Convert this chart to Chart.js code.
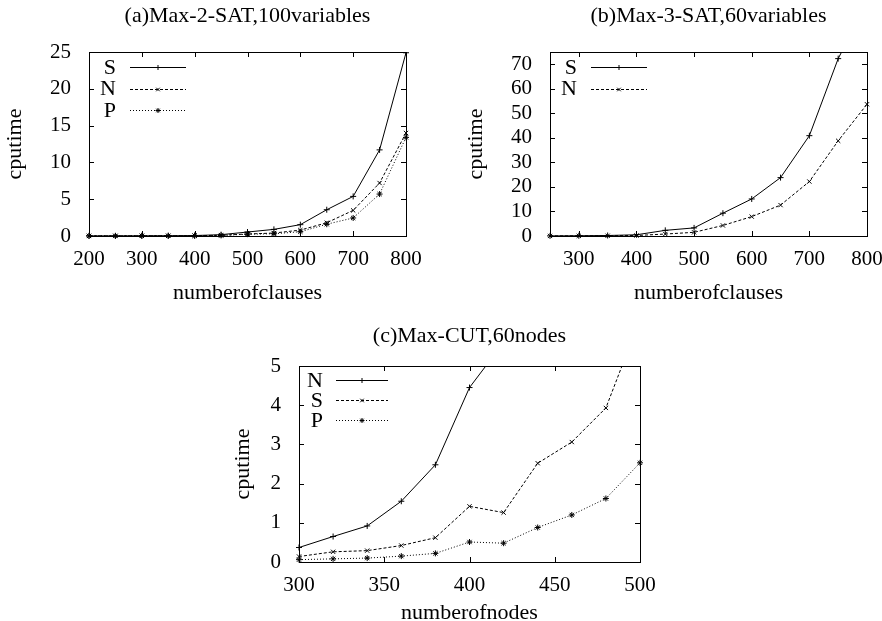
<!DOCTYPE html>
<html>
<head>
<meta charset="utf-8">
<script src="https://cdn.jsdelivr.net/npm/chart.js@4/dist/chart.umd.min.js"></script>
<style>
  html, body { margin: 0; padding: 0; background: #fff; overflow: hidden; }
  .box { position: absolute; }
  #boxA { left: 0; top: 0; width: 441px; height: 310px; }
  #boxB { left: 441px; top: 0; width: 441px; height: 310px; }
  #boxC { left: 200px; top: 310px; width: 460px; height: 320px; }
</style>
</head>
<body>
<div class="box" id="boxA"><canvas id="chartA"></canvas></div>
<div class="box" id="boxB"><canvas id="chartB"></canvas></div>
<div class="box" id="boxC"><canvas id="chartC"></canvas></div>
<script>
// (a) Max-2-SAT, 100 variables
const clausesA = [200, 250, 300, 350, 400, 450, 500, 550, 600, 650, 700, 750, 800];
const sA = [0.02, 0.02, 0.03, 0.04, 0.06, 0.18, 0.54, 0.9, 1.54, 3.57, 5.38, 11.7, 24.9];
const nA = [0.01, 0.01, 0.02, 0.02, 0.04, 0.1, 0.27, 0.4, 0.8, 1.8, 3.48, 7.2, 14.0];
const pA = [0.01, 0.01, 0.02, 0.02, 0.03, 0.08, 0.25, 0.3, 0.58, 1.6, 2.45, 5.7, 13.4];
const xTicksA = [200, 300, 400, 500, 600, 700, 800];
const yTicksA = [0, 5, 10, 15, 20, 25];

// (b) Max-3-SAT, 60 variables
const clausesB = [250, 300, 350, 400, 450, 500, 550, 600, 650, 700, 750, 800];
const sB = [0.05, 0.1, 0.2, 0.5, 2.3, 3.3, 9.3, 15.1, 23.8, 40.9, 72.3, 95];
const nB = [0.03, 0.05, 0.1, 0.2, 0.8, 1.5, 4.3, 7.9, 12.6, 22.2, 38.8, 53.7];
const xTicksB = [300, 400, 500, 600, 700, 800];
const yTicksB = [0, 10, 20, 30, 40, 50, 60, 70];

// (c) Max-CUT, 60 nodes
const nodesC = [300, 320, 340, 360, 380, 400, 420, 440, 460, 480, 500];
const nC = [0.37, 0.65, 0.92, 1.55, 2.48, 4.45, 5.6, null, null, null, null];
const sC = [0.14, 0.26, 0.29, 0.42, 0.62, 1.42, 1.26, 2.52, 3.06, 3.93, 6.2];
const pC = [0.06, 0.08, 0.1, 0.15, 0.22, 0.51, 0.48, 0.88, 1.2, 1.62, 2.53];
const xTicksC = [300, 350, 400, 450, 500];
const yTicksC = [0, 1, 2, 3, 4, 5];

const FONT = "'Liberation Serif', 'Times New Roman', serif";
Chart.defaults.font.family = FONT;
Chart.defaults.color = '#000';

// line styles, gnuplot-like
const STYLE = {
  solid:  { borderDash: [],     pointStyle: 'cross' },
  dashed: { borderDash: [3, 2], pointStyle: 'crossRot' },
  dotted: { borderDash: [1, 2], pointStyle: 'star' },
};

function series(label, xs, ys, style) {
  return {
    label,
    data: xs.map((x, i) => ({ x, y: ys[i] })),
    borderColor: '#000',
    backgroundColor: '#000',
    borderWidth: 1,
    borderDash: STYLE[style].borderDash,
    pointStyle: STYLE[style].pointStyle,
    pointRadius: 3,
    pointBorderWidth: 1,
    pointBorderColor: '#000',
    tension: 0,
    clip: { left: 6, right: 6, top: 0, bottom: 6 },
  };
}

// box around plot area + inner mirrored ticks
const framePlugin = {
  id: 'frame',
  afterDatasetsDraw(chart) {
    const { ctx, chartArea: a, scales: { x, y } } = chart;
    const len = 5;
    ctx.save();
    ctx.strokeStyle = '#000';
    ctx.lineWidth = 1;
    ctx.setLineDash([]);
    ctx.strokeRect(Math.round(a.left) + 0.5, Math.round(a.top) + 0.5,
      Math.round(a.width), Math.round(a.height));
    ctx.beginPath();
    x.ticks.forEach(t => {
      const px = Math.round(x.getPixelForValue(t.value)) + 0.5;
      ctx.moveTo(px, a.bottom); ctx.lineTo(px, a.bottom - len);
      ctx.moveTo(px, a.top); ctx.lineTo(px, a.top + len);
    });
    y.ticks.forEach(t => {
      const py = Math.round(y.getPixelForValue(t.value)) + 0.5;
      ctx.moveTo(a.left, py); ctx.lineTo(a.left + len, py);
      ctx.moveTo(a.right, py); ctx.lineTo(a.right - len, py);
    });
    ctx.stroke();
    ctx.restore();
  }
};

// legend inside top-left: label, then line sample with marker
const keyPlugin = {
  id: 'key',
  afterDraw(chart, args, opts) {
    const { ctx, chartArea: a } = chart;
    ctx.save();
    chart.data.datasets.forEach((ds, i) => {
      const y = a.top + opts.row0 + i * opts.rowGap;
      ctx.font = `${opts.size}px ${FONT}`;
      ctx.fillStyle = '#000';
      ctx.textAlign = 'right';
      ctx.textBaseline = 'middle';
      ctx.fillText(ds.label, a.left + opts.textRight, y + 1);
      ctx.strokeStyle = '#000';
      ctx.lineWidth = 1;
      ctx.setLineDash(ds.borderDash);
      ctx.beginPath();
      ctx.moveTo(a.left + opts.lineStart, Math.round(y) + 0.5);
      ctx.lineTo(a.left + opts.lineEnd, Math.round(y) + 0.5);
      ctx.stroke();
      ctx.setLineDash([]);
      Chart.helpers.drawPoint(ctx, {
        pointStyle: ds.pointStyle, radius: 2.5, borderWidth: 1, rotation: 0
      }, a.left + (opts.lineStart + opts.lineEnd) / 2, Math.round(y) + 0.5);
    });
    ctx.restore();
  }
};

function makeChart(id, c) {
  return new Chart(document.getElementById(id), {
    type: 'line',
    data: { datasets: c.datasets },
    plugins: [framePlugin, keyPlugin],
    options: {
      responsive: true,
      maintainAspectRatio: false,
      animation: false,
      layout: { padding: c.padding },
      plugins: {
        legend: { display: false },
        tooltip: { enabled: false },
        title: {
          display: true, text: c.title, fullSize: false,
          font: { size: 22, weight: 'normal', lineHeight: 1.1 }, color: '#000',
          padding: c.titlePad,
        },
        key: c.key,
      },
      scales: {
        x: {
          type: 'linear', min: c.xMin, max: c.xMax,
          grid: { display: false, drawTicks: false },
          border: { display: false },
          ticks: { font: { size: 21 }, color: '#000', padding: 11, maxRotation: 0, autoSkip: false },
          afterBuildTicks: s => { s.ticks = c.xTicks.map(v => ({ value: v })); },
          afterFit: s => { s.height = c.xHeight; s.paddingLeft = 0; s.paddingRight = 0; },
          title: { display: true, text: c.xLabel, font: { size: 22 }, color: '#000',
                   padding: { top: 0, bottom: c.xLabelPad } },
        },
        y: {
          type: 'linear', min: 0, max: c.yMax,
          grid: { display: false, drawTicks: false },
          border: { display: false },
          ticks: { font: { size: 21 }, color: '#000', padding: 18, autoSkip: false },
          afterBuildTicks: s => { s.ticks = c.yTicks.map(v => ({ value: v })); },
          afterFit: s => { s.width = c.yWidth; },
          title: { display: true, text: 'cputime', font: { size: 22 }, color: '#000',
                   padding: { top: c.yLabelPad, bottom: 0 } },
        },
      },
    },
  });
}

const keyAB = { size: 22, row0: 15, rowGap: 21.5, textRight: 27, lineStart: 41, lineEnd: 97 };

makeChart('chartA', {
  title: '(a)Max-2-SAT,100variables',
  datasets: [
    series('S', clausesA, sA, 'solid'),
    series('N', clausesA, nA, 'dashed'),
    series('P', clausesA, pA, 'dotted'),
  ],
  xMin: 200, xMax: 800, yMax: 25, xTicks: xTicksA, yTicks: yTicksA,
  xLabel: 'numberofclauses',
  padding: { left: 0, right: 35, top: 0, bottom: 0 },
  titlePad: { top: 4, bottom: 23.8 },
  xHeight: 74, yWidth: 89, xLabelPad: 4, yLabelPad: 2,
  key: keyAB,
});

makeChart('chartB', {
  title: '(b)Max-3-SAT,60variables',
  datasets: [
    series('S', clausesB, sB, 'solid'),
    series('N', clausesB, nB, 'dashed'),
  ],
  xMin: 250, xMax: 800, yMax: 75, xTicks: xTicksB, yTicks: yTicksB,
  xLabel: 'numberofclauses',
  padding: { left: 0, right: 15, top: 0, bottom: 0 },
  titlePad: { top: 4, bottom: 23.8 },
  xHeight: 74, yWidth: 109, xLabelPad: 4, yLabelPad: 22,
  key: keyAB,
});

makeChart('chartC', {
  title: '(c)Max-CUT,60nodes',
  datasets: [
    series('N', nodesC, nC, 'solid'),
    series('S', nodesC, sC, 'dashed'),
    series('P', nodesC, pC, 'dotted'),
  ],
  xMin: 300, xMax: 500, yMax: 5, xTicks: xTicksC, yTicks: yTicksC,
  xLabel: 'numberofnodes',
  padding: { left: 0, right: 20, top: 0, bottom: 0 },
  titlePad: { top: 14, bottom: 17.8 },
  xHeight: 68, yWidth: 99, xLabelPad: 4, yLabelPad: 30,
  key: { size: 22, row0: 14, rowGap: 20, textRight: 24, lineStart: 37, lineEnd: 89 },
});
</script>
</body>
</html>
